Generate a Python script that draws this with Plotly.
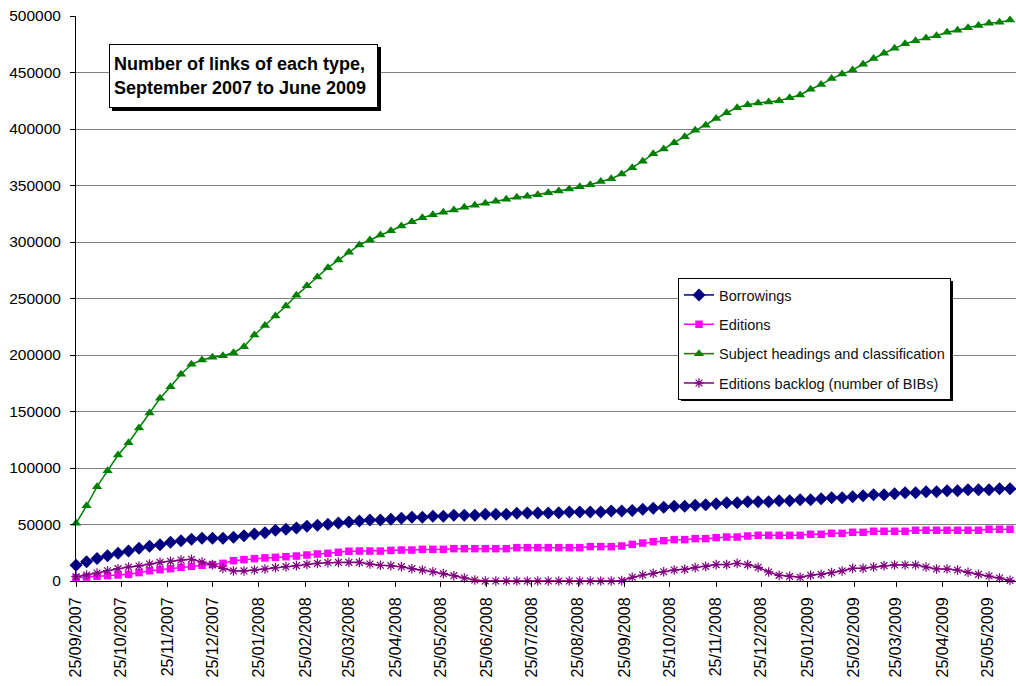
import pandas as pd
import plotly.graph_objects as go

# Weekly snapshots, starting 25/09/2007
start_date = "2007-09-25"
n_weeks = 90
dates = pd.date_range(start_date, periods=n_weeks, freq="7D")

borrowings = [
    14000, 17100, 20000, 22400, 24500, 26500, 28900, 30700, 32100, 34200,
    35700, 36900, 37800, 37800, 37800, 38700, 40100, 41600, 42800, 44900,
    45800, 46900, 48400, 49300, 50200, 51300, 52200, 53100, 54000, 54000,
    54600, 55500, 56400, 56400, 57300, 57300, 58100, 58100, 58100, 59000,
    59000, 59000, 59900, 60200, 60200, 60200, 60500, 61100, 61100, 61100,
    61100, 62000, 62000, 62500, 63400, 64300, 65200, 66100, 66100, 67000,
    67400, 68400, 69300, 69300, 70200, 70200, 70200, 71100, 71100, 71900,
    71900, 72800, 73700, 73700, 74600, 75500, 76400, 76400, 77300, 78100,
    78100, 79000, 79000, 79900, 79900, 80800, 80800, 80800, 81700, 81700,
]

editions = [
    2900, 3500, 4100, 4700, 5300, 5900, 7400, 9100, 10000, 10900,
    12100, 13000, 13900, 14500, 15600, 18000, 18900, 19800, 20400, 20900,
    21500, 22100, 23000, 23900, 24500, 25400, 26300, 26500, 26500, 26500,
    27100, 27400, 27400, 28000, 28000, 28000, 28600, 28600, 28600, 28600,
    28600, 28600, 29500, 29500, 29500, 29500, 29500, 29500, 29500, 30400,
    30400, 30400, 31000, 32400, 33600, 34800, 35700, 36600, 36600, 37500,
    37500, 38400, 38900, 38900, 39800, 40400, 40400, 40400, 40400, 40400,
    41300, 41300, 42200, 42200, 43100, 43100, 44000, 44000, 44000, 44000,
    44900, 44900, 44900, 44900, 44900, 44900, 44900, 45800, 45800, 45800,
]

subject_headings = [
    51000, 66600, 83500, 97600, 111500, 122400, 135500, 148700, 161700, 172000,
    182900, 191800, 195600, 198000, 199400, 202000, 207300, 217700, 226000, 234500,
    243400, 252800, 261300, 269000, 277300, 284100, 290900, 297400, 301800, 306200,
    310000, 314200, 318000, 321500, 324200, 326300, 328300, 330700, 332500, 334200,
    336000, 337800, 339600, 340400, 341900, 343600, 345100, 346900, 348900, 350700,
    353500, 356000, 360200, 365800, 371500, 378000, 382300, 387900, 393200, 398800,
    403400, 409200, 414400, 418900, 421500, 423000, 423900, 425100, 427700, 430100,
    435200, 439300, 444600, 448700, 452300, 457300, 462300, 467000, 471400, 475500,
    478200, 480500, 482600, 485600, 487300, 489700, 491700, 493500, 494400, 496500,
]

editions_backlog = [
    3800, 5300, 7100, 9100, 10900, 12400, 13300, 15000, 16500, 17400,
    18600, 19200, 16800, 14500, 11200, 8900, 8900, 9700, 10600, 11800,
    12700, 13600, 14700, 15600, 16200, 16500, 16500, 16500, 15000, 13900,
    13600, 12700, 10900, 9700, 8200, 6500, 4700, 2700, 900, 0,
    0, 0, 0, 0, 0, 0, 0, 0, 0, 0,
    0, 0, 300, 3300, 5300, 6800, 8200, 9700, 10300, 11800,
    12900, 14500, 14500, 15600, 14500, 12100, 8000, 5000, 4100, 3300,
    5000, 5900, 7400, 8900, 11200, 11200, 12400, 13600, 14200, 14200,
    14200, 12400, 10600, 10600, 9700, 7700, 5900, 4400, 2700, 600,
]

# Monthly tick positions on the 25th, 25/09/2007 to 25/05/2009
tick_dates = pd.date_range("2007-09-01", "2009-05-01", freq="MS") + pd.Timedelta(days=24)

FONT = "Arial, 'Liberation Sans', sans-serif"

series = [
    ("Borrowings", borrowings, "#000080", "diamond", 10),
    ("Editions", editions, "#FF00FF", "square", 7.5),
    ("Subject headings and classification", subject_headings, "#008000", "triangle-up", 9),
    ("Editions backlog (number of BIBs)", editions_backlog, "#800080", "asterisk-open", 8),
]

fig = go.Figure()
for i, (name, values, color, symbol, size) in enumerate(series):
    marker = dict(symbol=symbol, size=size, color=color)
    if symbol.endswith("open"):
        marker["line"] = dict(color=color, width=1.2)
    else:
        marker["line"] = dict(width=0)
    fig.add_trace(go.Scatter(
        x=dates, y=values, name=name, mode="lines+markers",
        line=dict(color=color, width=1.5), marker=marker,
        cliponaxis=False, legendgroup=f"g{i}",
    ))

# Plot-area geometry (pixels) used to place the boxes and their shadows
W, H = 1016, 686
L, R, T, B = 76, 0, 16, 105
pw, ph = W - L - R, H - T - B


def px_x(x):
    return (x - L) / pw


def px_y(y):
    return (H - B - y) / ph


shadow = 3
title_box = (109, 44, 378, 108)
legend_box = (678, 278, 950, 398)

shapes = []
for (x0, y0, x1, y1) in (title_box, legend_box):
    shapes.append(dict(
        type="rect", xref="paper", yref="paper", layer="above",
        x0=px_x(x0 + shadow), x1=px_x(x1 + shadow),
        y0=px_y(y1 + shadow), y1=px_y(y0 + shadow),
        fillcolor="black", line=dict(width=0),
    ))

fig.update_layout(
    width=W, height=H,
    margin=dict(l=L, r=R, t=T, b=B),
    paper_bgcolor="white", plot_bgcolor="white",
    font=dict(family=FONT, color="black", size=15),
    showlegend=True,
    legend=dict(
        x=px_x(legend_box[0]), y=px_y(legend_box[1]),
        xanchor="left", yanchor="top",
        bgcolor="white", bordercolor="black", borderwidth=1,
        font=dict(family=FONT, size=14.5, color="#111111"),
        tracegroupgap=7.5, traceorder="grouped",
    ),
    xaxis=dict(
        type="date",
        range=["2007-09-24 23:00", "2009-06-13"],
        tickmode="array", tickvals=tick_dates,
        tickformat="%d/%m/%Y", tickangle=-90,
        ticks="outside", ticklen=5, tickcolor="black",
        showline=True, linecolor="black", linewidth=1,
        showgrid=False, zeroline=False,
        tickfont=dict(family=FONT, size=16, color="black"),
        ticklabelstandoff=4,
    ),
    yaxis=dict(
        range=[0, 500000], dtick=50000, tick0=0, tickformat="d",
        ticks="outside", ticklen=5, tickcolor="black",
        showline=True, linecolor="black", linewidth=1,
        showgrid=True, gridcolor="#808080", gridwidth=1,
        zeroline=False,
        tickfont=dict(family=FONT, size=15.5, color="black"),
        ticklabelstandoff=6,
    ),
    shapes=shapes,
    annotations=[dict(
        xref="paper", yref="paper",
        x=px_x(title_box[0]), y=px_y(title_box[1]),
        xanchor="left", yanchor="top",
        text="Number of links of each type,<br>September 2007 to June 2009",
        showarrow=False, align="left",
        font=dict(family=FONT, size=18, color="black", weight="bold"),
        bgcolor="white", bordercolor="black", borderwidth=1, borderpad=4,
        width=title_box[2] - title_box[0] - 10,
        height=title_box[3] - title_box[1] - 10,
    )],
)

fig.write_html("out.html")
